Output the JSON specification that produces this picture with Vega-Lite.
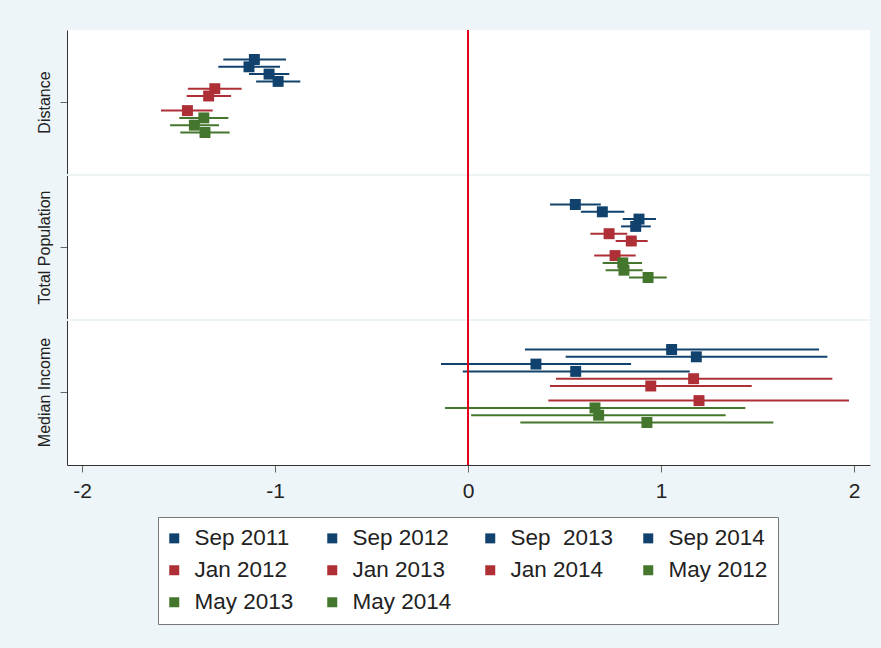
{
  "$schema": "https://vega.github.io/schema/vega-lite/v6.json",
  "width": 803,
  "height": 435,
  "autosize": {"type": "none"},
  "padding": {"left": 67, "top": 30, "right": 11, "bottom": 183},
  "background": "#eef5f8",
  "config": {
    "font": "Liberation Sans",
    "view": {"fill": "white", "stroke": null}
  },
  "data": {
    "values": [
      {"var": "Distance", "model": "Sep 2011", "b": -1.107, "lo": -1.268, "hi": -0.943},
      {"var": "Distance", "model": "Sep 2012", "b": -1.135, "lo": -1.294, "hi": -0.974},
      {"var": "Distance", "model": "Sep  2013", "b": -1.031, "lo": -1.135, "hi": -0.926},
      {"var": "Distance", "model": "Sep 2014", "b": -0.984, "lo": -1.098, "hi": -0.869},
      {"var": "Distance", "model": "Jan 2012", "b": -1.312, "lo": -1.452, "hi": -1.173},
      {"var": "Distance", "model": "Jan 2013", "b": -1.344, "lo": -1.458, "hi": -1.228},
      {"var": "Distance", "model": "Jan 2014", "b": -1.454, "lo": -1.591, "hi": -1.323},
      {"var": "Distance", "model": "May 2012", "b": -1.369, "lo": -1.496, "hi": -1.242},
      {"var": "Distance", "model": "May 2013", "b": -1.418, "lo": -1.544, "hi": -1.29},
      {"var": "Distance", "model": "May 2014", "b": -1.363, "lo": -1.491, "hi": -1.235},
      {"var": "Total Population", "model": "Sep 2011", "b": 0.556, "lo": 0.425, "hi": 0.688},
      {"var": "Total Population", "model": "Sep 2012", "b": 0.696, "lo": 0.585, "hi": 0.81},
      {"var": "Total Population", "model": "Sep  2013", "b": 0.886, "lo": 0.802, "hi": 0.974},
      {"var": "Total Population", "model": "Sep 2014", "b": 0.869, "lo": 0.793, "hi": 0.947},
      {"var": "Total Population", "model": "Jan 2012", "b": 0.731, "lo": 0.634, "hi": 0.825},
      {"var": "Total Population", "model": "Jan 2013", "b": 0.846, "lo": 0.765, "hi": 0.931},
      {"var": "Total Population", "model": "Jan 2014", "b": 0.762, "lo": 0.654, "hi": 0.869},
      {"var": "Total Population", "model": "May 2012", "b": 0.802, "lo": 0.698, "hi": 0.902},
      {"var": "Total Population", "model": "May 2013", "b": 0.808, "lo": 0.713, "hi": 0.905},
      {"var": "Total Population", "model": "May 2014", "b": 0.933, "lo": 0.834, "hi": 1.03},
      {"var": "Median Income", "model": "Sep 2011", "b": 1.055, "lo": 0.295, "hi": 1.819},
      {"var": "Median Income", "model": "Sep 2012", "b": 1.183, "lo": 0.506, "hi": 1.862},
      {"var": "Median Income", "model": "Sep  2013", "b": 0.352, "lo": -0.14, "hi": 0.845},
      {"var": "Median Income", "model": "Sep 2014", "b": 0.558, "lo": -0.027, "hi": 1.149},
      {"var": "Median Income", "model": "Jan 2012", "b": 1.169, "lo": 0.456, "hi": 1.888},
      {"var": "Median Income", "model": "Jan 2013", "b": 0.947, "lo": 0.425, "hi": 1.47},
      {"var": "Median Income", "model": "Jan 2014", "b": 1.197, "lo": 0.416, "hi": 1.974},
      {"var": "Median Income", "model": "May 2012", "b": 0.658, "lo": -0.119, "hi": 1.437},
      {"var": "Median Income", "model": "May 2013", "b": 0.677, "lo": 0.016, "hi": 1.335},
      {"var": "Median Income", "model": "May 2014", "b": 0.927, "lo": 0.271, "hi": 1.582}
    ]
  },
  "layer": [
    {
      "data": {"values": [{"var": "Total Population"}, {"var": "Median Income"}]},
      "mark": {"type": "rule", "color": "#edf4f6", "strokeWidth": 2},
      "encoding": {
        "y": {"field": "var", "type": "nominal", "bandPosition": 0,
          "scale": {"domain": ["Distance", "Total Population", "Median Income"], "paddingInner": 0, "paddingOuter": 0}}
      }
    },
    {
      "mark": {"type": "rule", "strokeWidth": 2},
      "encoding": {
        "x": {"field": "lo", "type": "quantitative"},
        "x2": {"field": "hi"},
        "y": {"field": "var", "type": "nominal"},
        "yOffset": {"field": "model", "type": "nominal",
          "scale": {"type": "point", "padding": 0, "domain": ["Sep 2011", "Sep 2012", "Sep  2013", "Sep 2014", "Jan 2012", "Jan 2013", "(gap)", "Jan 2014", "May 2012", "May 2013", "May 2014"], "range": [29.5, 102.5]}},
        "color": {"field": "model", "type": "nominal",
          "scale": {"domain": ["Sep 2011", "Sep 2012", "Sep  2013", "Sep 2014", "Jan 2012", "Jan 2013", "Jan 2014", "May 2012", "May 2013", "May 2014"],
            "range": ["#11426e", "#11426e", "#11426e", "#11426e", "#ae2f36", "#ae2f36", "#ae2f36", "#44772d", "#44772d", "#44772d"]}}
      }
    },
    {
      "mark": {"type": "point", "shape": "square", "filled": true, "size": 120, "opacity": 1},
      "encoding": {
        "x": {"field": "b", "type": "quantitative",
          "scale": {"domain": [-2.078, 2.083], "nice": false, "zero": false},
          "axis": {"title": null, "values": [-2, -1, 0, 1, 2], "labelExpr": "'' + datum.value", "labelFontSize": 21, "labelColor": "#222", "tickSize": 7, "tickColor": "#666", "domainColor": "#333", "labelPadding": 8, "grid": false}},
        "y": {"field": "var", "type": "nominal",
          "axis": {"title": null, "labelAngle": -90, "labelAlign": "center", "labelBaseline": "bottom", "labelFontSize": 16, "labelColor": "#222", "tickSize": 7, "tickColor": "#666", "domainColor": "#333", "labelPadding": 8, "grid": false}},
        "yOffset": {"field": "model", "type": "nominal"},
        "color": {"field": "model", "type": "nominal",
          "legend": {"title": null, "orient": "none", "legendX": 91, "legendY": 487, "columns": 4, "direction": "horizontal",
            "symbolType": "square", "symbolSize": 100, "symbolStrokeWidth": 0, "symbolOffset": -5, "labelFontSize": 22.5, "labelColor": "#222",
            "labelOffset": 9, "columnPadding": 28, "rowPadding": 9, "padding": 10, "strokeColor": "#777", "fillColor": "white",
            "gridAlign": "all", "labelLimit": 250, "labelExpr": "replace(datum.label, '  ', ' \u00a0')"}}
      }
    },
    {
      "data": {"values": [{}]},
      "mark": {"type": "rule", "color": "#e2001a", "strokeWidth": 2},
      "encoding": {"x": {"datum": 0}}
    }
  ]
}
